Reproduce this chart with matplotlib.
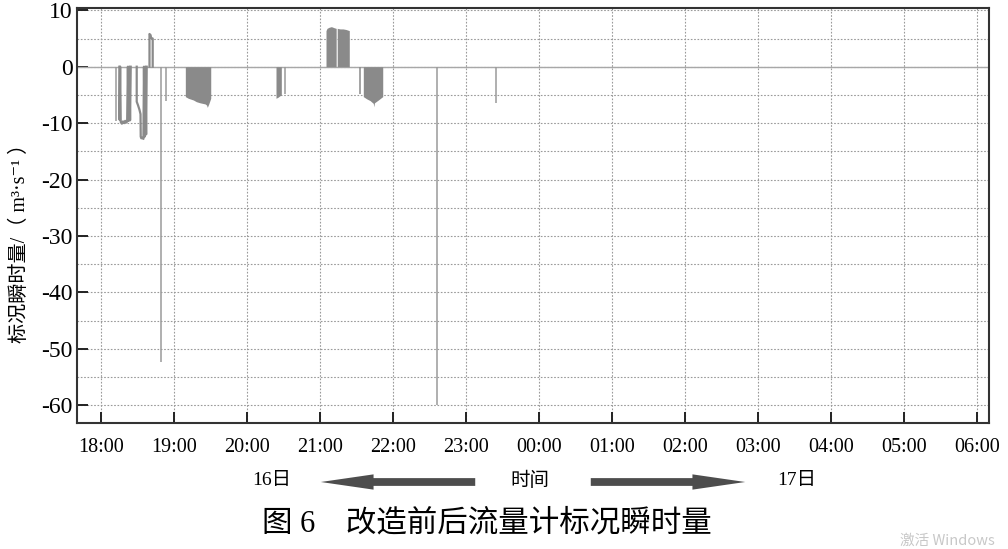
import numpy as np
import matplotlib.pyplot as plt
from matplotlib.ticker import MultipleLocator
from matplotlib.patches import FancyArrowPatch

plt.rcParams['font.family'] = ['Liberation Serif', 'Noto Sans CJK SC', 'DejaVu Serif']
plt.rcParams['axes.unicode_minus'] = False

# hours after 18:00 on the 16th
hour_ticks = np.arange(13)
hour_labels = ['18:00', '19:00', '20:00', '21:00', '22:00', '23:00', '00:00',
               '01:00', '02:00', '03:00', '04:00', '05:00', '06:00']

# step-like traces (line drawn through the values)
u1_t = [0.255, 0.258, 0.266, 0.274, 0.29, 0.305, 0.32, 0.335, 0.35, 0.362, 0.372, 0.382, 0.392, 0.402, 0.411]
u1_v = [0, -9.4, 0, -9.8, -10.1, -9.7, -10.0, -9.6, -9.9, -9.7, 0, -9.6, 0, -9.5, 0]
u2_t = [0.493, 0.493, 0.51, 0.53, 0.545, 0.548, 0.556, 0.57, 0.585, 0.592, 0.602, 0.612, 0.622, 0.630]
u2_v = [0, -6.2, -6.8, -7.6, -8.4, -12.4, -12.7, -12.6, -12.8, 0, -12.4, 0, -12.0, 0]
pos_t = [0.668, 0.668, 0.683, 0.690, 0.712, 0.712]
pos_v = [0, 5.8, 5.6, 5.1, 5.0, 0]

# single thin spikes
spike_t = [0.210, 0.822, 0.888, 2.52, 4.611, 5.42]
spike_v = [-9.7, -52.3, -6.0, -4.9, -60.0, -6.5]

# dense blocks (envelope of rapid oscillations)
blk1_t = [1.159, 1.20, 1.269, 1.31, 1.36, 1.43, 1.45, 1.46, 1.48, 1.507]
blk1_v = [-5.3, -5.6, -5.9, -6.2, -6.4, -6.6, -6.8, -7.2, -6.6, -5.6]
blk2_t = [2.401, 2.43, 2.45, 2.474]
blk2_v = [-5.6, -5.4, -5.2, -5.0]
blk3a_t = [3.086, 3.10, 3.13, 3.16, 3.20, 3.225]
blk3a_v = [6.4, 6.8, 7.0, 7.1, 6.9, 6.8]
blk3b_t = [3.240, 3.28, 3.32, 3.36, 3.405]
blk3b_v = [6.8, 6.7, 6.7, 6.6, 6.4]
blk4_t = [3.597, 3.644, 3.689, 3.734, 3.74, 3.75, 3.803, 3.863]
blk4_v = [-5.3, -5.7, -6.0, -6.5, -7.1, -6.4, -5.9, -5.3]

W, H = 1008, 549
fig = plt.figure(figsize=(W / 100, H / 100), dpi=100)
ax = fig.add_axes([77 / W, 1 - 423 / H, (989 - 77) / W, (423 - 8) / H])

ax.set_xlim(-0.325, 12.168)
ax.set_ylim(-63.17, 10.41)

ax.axhline(0, color='#a8a8a8', lw=1.0, zorder=2)

col = '#8a8a8a'
for bt, bv in [(blk1_t, blk1_v), (blk2_t, blk2_v), (blk3a_t, blk3a_v),
               (blk3b_t, blk3b_v), (blk4_t, blk4_v)]:
    ax.fill_between(bt, 0, bv, color=col, lw=0, zorder=3)
for tt, vv in [(u1_t, u1_v), (u2_t, u2_v), (pos_t, pos_v)]:
    ax.plot(tt, vv, color=col, lw=1.6, zorder=3)
ax.vlines(spike_t, 0, spike_v, color='#9a9a9a', lw=1.1, zorder=3)
ax.vlines([3.553], 0, [-4.9], color=col, lw=1.1, zorder=3)

ax.set_xticks(hour_ticks)
ax.set_xticklabels(hour_labels, fontsize=14.5)
ax.set_yticks([10, 0, -10, -20, -30, -40, -50, -60])
ax.yaxis.set_minor_locator(MultipleLocator(5))
ax.tick_params(axis='y', labelsize=17)
ax.tick_params(which='major', direction='in', length=8, width=1.4,
               color='#222222', top=False, right=False)
ax.tick_params(axis='x', pad=11)
ax.tick_params(axis='y', pad=3)
ax.tick_params(which='minor', length=0)

ax.grid(which='major', ls=(0, (1.5, 1.5)), color='#9a9a9a', lw=0.8)
ax.grid(which='minor', axis='y', ls=(0, (1.5, 1.5)), color='#9a9a9a', lw=0.8)
ax.set_axisbelow(True)
for s in ax.spines.values():
    s.set_linewidth(1.5)
    s.set_color('#333333')

ax.set_ylabel('标况瞬时量/（ m³·s⁻¹ ）', fontsize=14.5)
ax.yaxis.set_label_coords(-0.051, 0.445)

# time axis annotation
fig.text(272 / W, 1 - 481 / H, '16日', fontsize=14, ha='center', va='center')
fig.text(530 / W, 1 - 481 / H, '时间', fontsize=14, ha='center', va='center')
fig.text(797 / W, 1 - 481 / H, '17日', fontsize=14, ha='center', va='center')
for x0, x1 in [(478, 318), (588, 748)]:
    arr = FancyArrowPatch((x0 / W, 1 - 482 / H), (x1 / W, 1 - 482 / H),
                          transform=fig.transFigure, mutation_scale=20,
                          arrowstyle='simple,head_width=0.55,head_length=1.9,tail_width=0.28',
                          color='#4d4d4d', lw=0)
    fig.patches.append(arr)

fig.text(487 / W, 1 - 524 / H, '图 6　改造前后流量计标况瞬时量', fontsize=22,
         ha='center', va='center')
fig.text(900 / W, 1 - 541 / H, '激活 Windows', fontsize=10.5, color='#c8c8c8',
         family=['Noto Sans CJK SC', 'DejaVu Sans'], ha='left', va='center')

fig.savefig('out.png', dpi=100)
